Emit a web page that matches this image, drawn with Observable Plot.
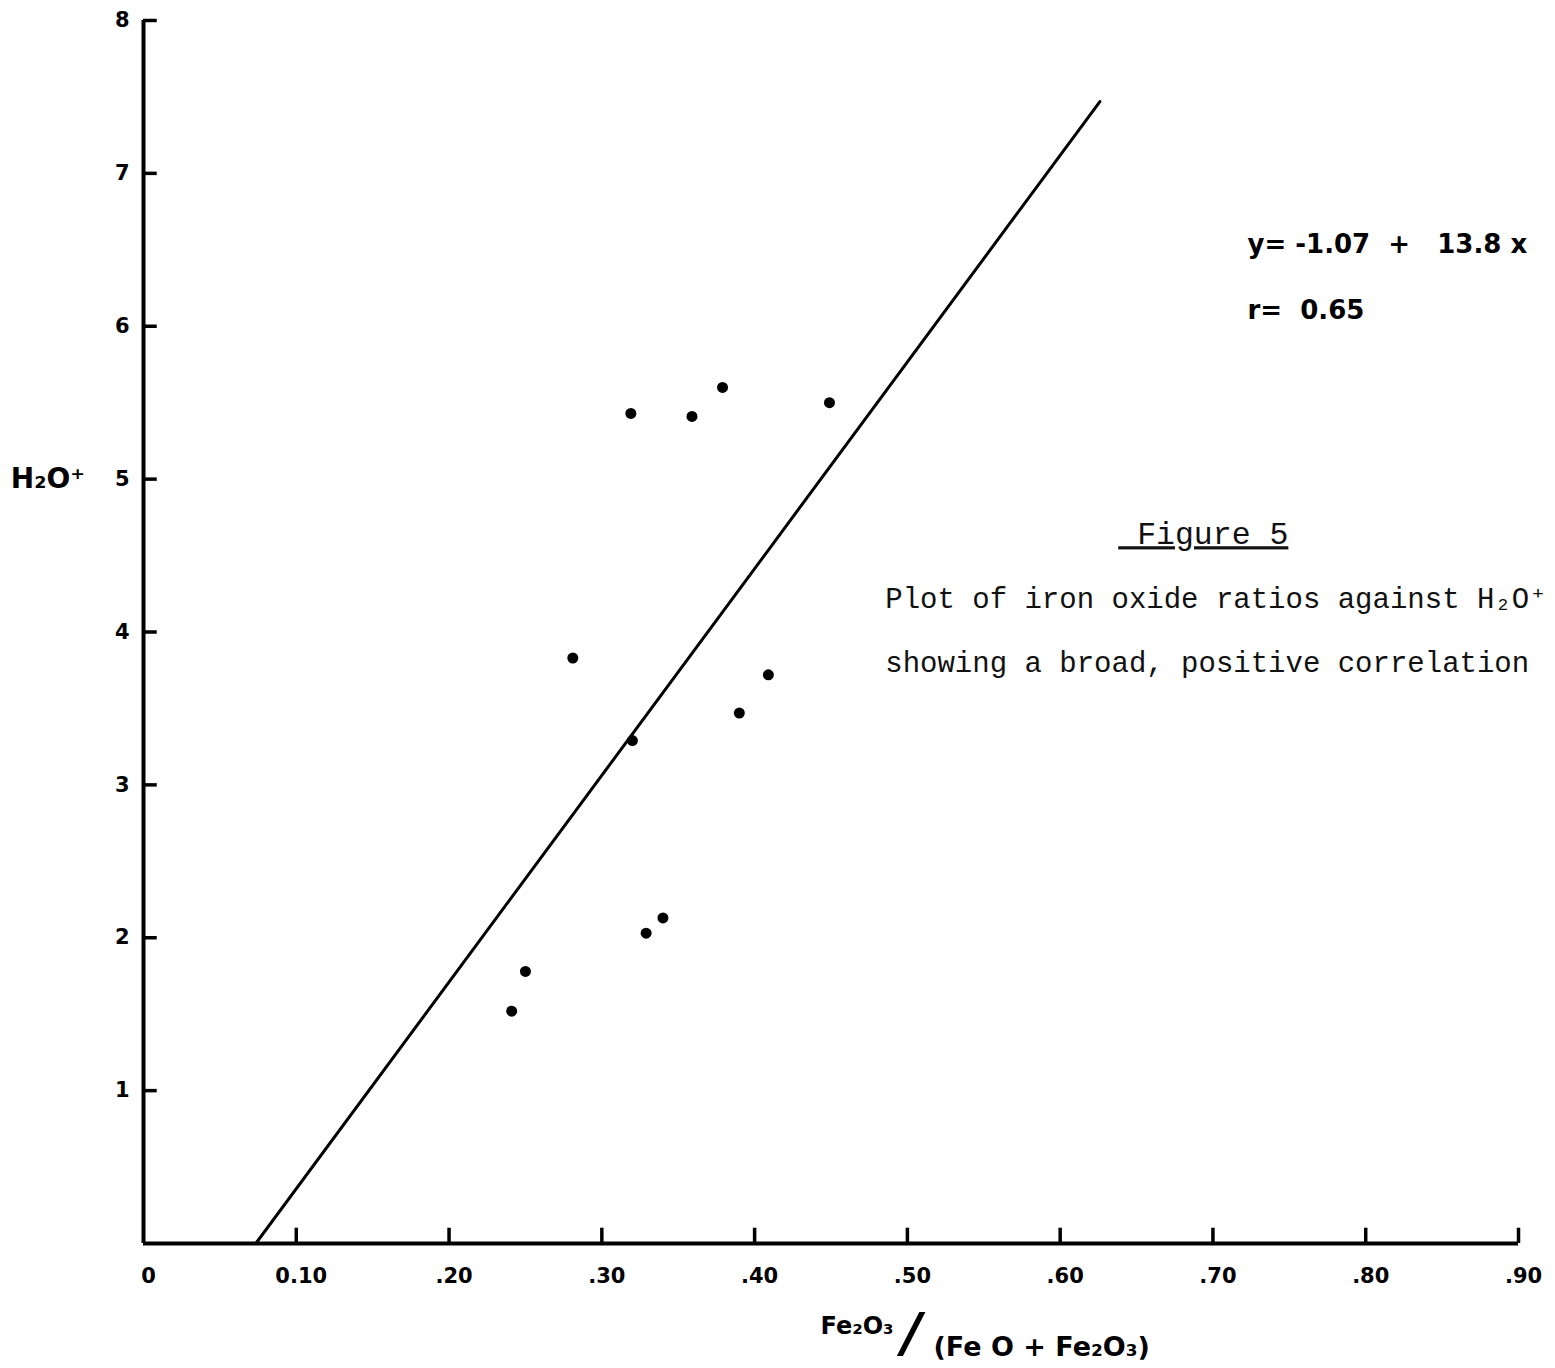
<!DOCTYPE html>
<html>
<head>
<meta charset="utf-8">
<script src="https://cdn.jsdelivr.net/npm/d3@7"></script>
<script src="https://cdn.jsdelivr.net/npm/@observablehq/plot@0.6"></script>
<style>
  html, body { margin: 0; padding: 0; background: #fff; }
  #chart { width: 1555px; height: 1368px; overflow: hidden; }
</style>
</head>
<body>
<div id="chart"></div>
<script>
// Data
const ratio = [0.241, 0.250, 0.281, 0.319, 0.320, 0.329, 0.340, 0.359, 0.379, 0.390, 0.409, 0.449];
const h2o   = [1.52, 1.78, 3.83, 5.43, 3.29, 2.03, 2.13, 5.41, 5.60, 3.47, 3.72, 5.50];

// Regression line endpoints as drawn
const fitX = [0.0735, 0.626];
const fitY = [0, 7.47];

const xTicks = [0, 0.1, 0.2, 0.3, 0.4, 0.5, 0.6, 0.7, 0.8, 0.9];
const xTickLabels = ["0", "0.10", ".20", ".30", ".40", ".50", ".60", ".70", ".80", ".90"];
const yTicks = [1, 2, 3, 4, 5, 6, 7, 8];
const yTickLabels = ["1", "2", "3", "4", "5", "6", "7", "8"];

const yTitle = "H\u2082O\u207a";
const xTitleParts = ["Fe\u2082O\u2083", "/", "(Fe O + Fe\u2082O\u2083)"];
const equationText = ["y=\u00a0-1.07\u00a0\u00a0+\u00a0\u00a0\u00a013.8\u00a0x", "r=\u00a0\u00a00.65"];
const captionTitle = "\u00a0Figure 5";
const captionLines = ["Plot of iron oxide ratios against H\u2082O\u207a", "showing a broad, positive correlation"];

const points = ratio.map((x, i) => ({x, y: h2o[i]}));
const fit = fitX.map((x, i) => ({x, y: fitY[i]}));
const xt = xTicks.map((v, i) => ({v, label: xTickLabels[i]}));
const yt = yTicks.map((v, i) => ({v, label: yTickLabels[i]}));

const sans = "'DejaVu Sans', Lato, sans-serif";
const mono = "'Courier New', 'Liberation Mono', monospace";

const chart = Plot.plot({
  width: 1555,
  height: 1368,
  marginLeft: 143,
  marginRight: 37,
  marginTop: 20,
  marginBottom: 125,
  x: {type: "linear", domain: [0, 0.9], axis: null},
  y: {type: "linear", domain: [0, 8], axis: null},
  style: {background: "#fff", overflow: "visible"},
  marks: [
    // axes lines
    Plot.ruleX([0], {y1: 0, y2: 8, stroke: "#000", strokeWidth: 4}),
    Plot.ruleY([0], {x1: 0, x2: 0.9, stroke: "#000", strokeWidth: 4}),
    // y ticks (inward, to the right)
    Plot.ruleY(yt, {y: "v", x1: 0, x2: 0.009, stroke: "#000", strokeWidth: 3.5}),
    // x ticks (upward)
    Plot.ruleX(xt.filter(d => d.v > 0), {x: "v", y1: 0, y2: 0.1, stroke: "#000", strokeWidth: 3.5}),
    // tick labels
    Plot.text(yt, {x: 0, y: "v", text: "label", textAnchor: "end", dx: -14, fontSize: 21, fontWeight: "bold", fontFamily: sans, fill: "#000"}),
    Plot.text(xt, {x: "v", y: 0, text: "label", dx: 5, dy: 33, fontSize: 21, fontWeight: "bold", fontFamily: sans, fill: "#000"}),
    // axis titles
    Plot.text([yTitle], {x: -0.0625, y: 5, text: d => d, fontSize: 28, fontWeight: "bold", fontFamily: sans, fill: "#000"}),
    Plot.text([xTitleParts[0]], {x: 0.4431, y: -0.589, text: d => d, textAnchor: "start", lineAnchor: "bottom", fontSize: 24, fontWeight: "bold", fontFamily: sans, fill: "#000"}),
    Plot.text([xTitleParts[1]], {x: 0.4965, y: -0.70, text: d => d, textAnchor: "start", lineAnchor: "bottom", fontSize: 54, fontWeight: "bold", fontStyle: "italic", fontFamily: sans, fill: "#000"}),
    Plot.text([xTitleParts[2]], {x: 0.5171, y: -0.733, text: d => d, textAnchor: "start", lineAnchor: "bottom", fontSize: 27, fontWeight: "bold", fontFamily: sans, fill: "#000"}),
    // regression line
    Plot.line(fit, {x: "x", y: "y", stroke: "#000", strokeWidth: 3}),
    // data points
    Plot.dot(points, {x: "x", y: "y", r: 5.5, fill: "#000", stroke: null}),
    // equation
    Plot.text(equationText, {x: 0.7226, y: (d, i) => [6.482, 6.05][i], text: d => d, textAnchor: "start", lineAnchor: "bottom", fontSize: 26, fontWeight: "bold", fontFamily: sans, fill: "#000"}),
    // caption
    Plot.text([captionTitle], {x: 0.638, y: 4.64, text: d => d, textAnchor: "start", fontSize: 31.5, fontFamily: mono, fill: "#111"}),
    Plot.text(captionLines, {x: 0.4855, y: (d, i) => [4.22, 3.80][i], text: d => d, textAnchor: "start", fontSize: 29, fontFamily: mono, fill: "#111"})
  ]
});

d3.select(chart).selectAll("text").filter(function() { return this.textContent === captionTitle; })
  .attr("text-decoration", "underline");

document.getElementById("chart").appendChild(chart);
</script>
</body>
</html>
